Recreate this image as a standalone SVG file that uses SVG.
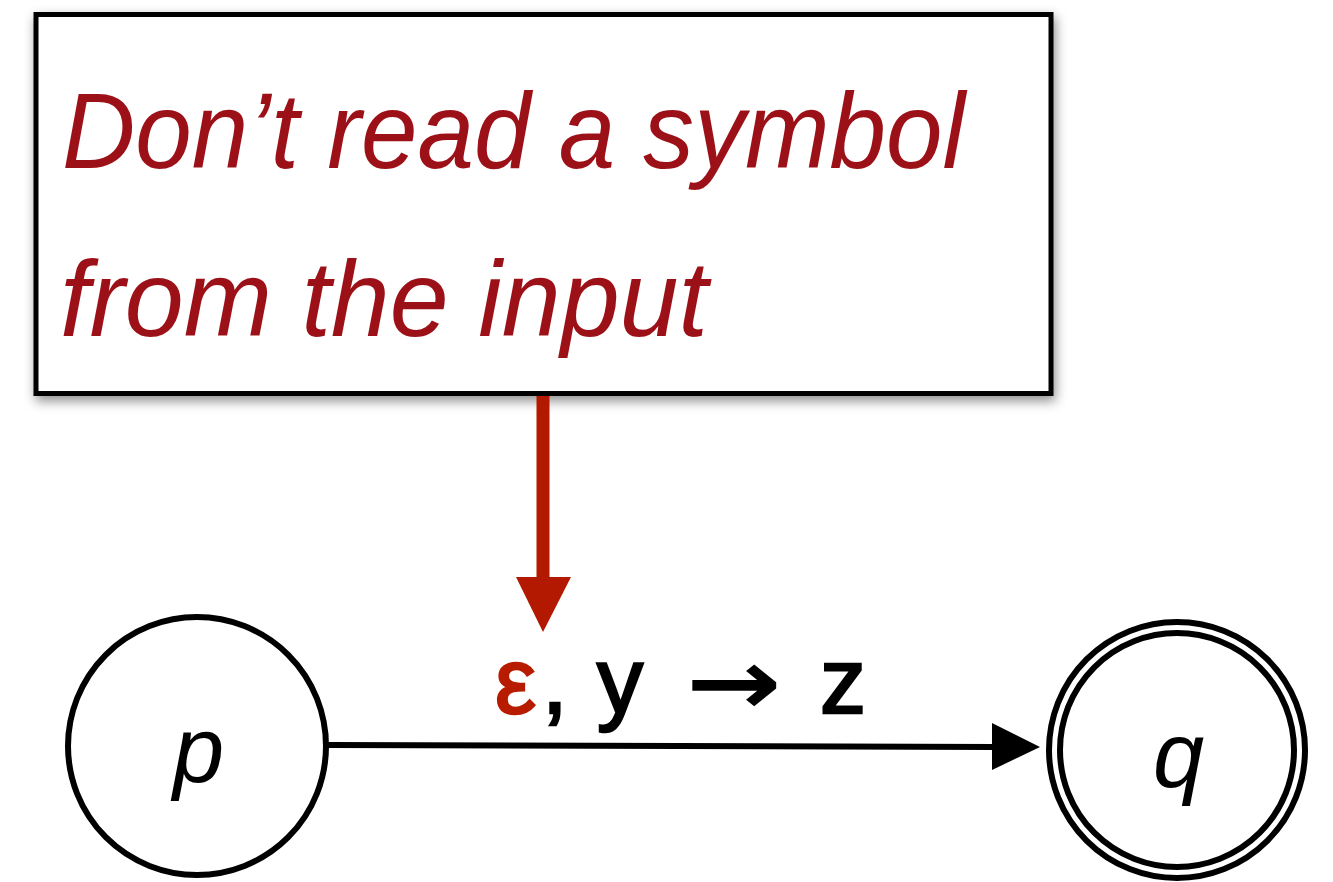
<svg xmlns="http://www.w3.org/2000/svg" width="1333" height="882" viewBox="0 0 1333 882">
<style>
.note{font-family:"Liberation Sans","Open Sans",sans-serif;font-style:italic;font-size:108px;fill:#9c1117}
.lbl{font-family:"Liberation Sans","Open Sans",sans-serif;font-size:92px;fill:#000;stroke:#000;stroke-width:2.5}
.st{font-family:"Liberation Sans","Open Sans",sans-serif;font-style:italic;font-size:92px;fill:#000}
.ring{fill:#fff;stroke:#000;stroke-width:6}
</style>
<defs>
<filter id="sh" x="-10%" y="-10%" width="120%" height="130%">
<feDropShadow dx="2" dy="5" stdDeviation="6" flood-color="#000" flood-opacity="0.45"/>
</filter>
</defs>
<rect width="1333" height="882" fill="#fff"/>
<g id="note">
<rect x="36" y="14.5" width="1015" height="379" fill="#fff" stroke="#000" stroke-width="5" filter="url(#sh)"/>
<text class="note" x="62" y="168" textLength="903" lengthAdjust="spacingAndGlyphs">Don’t read a symbol</text>
<text class="note" x="60" y="336" textLength="648" lengthAdjust="spacingAndGlyphs">from the input</text>
</g>
<g id="connectors">
<line x1="543" y1="396" x2="543" y2="580" stroke="#b31800" stroke-width="13"/>
<polygon points="516,577 571,577 543,632" fill="#b31800"/>
<line x1="328" y1="745" x2="995" y2="747" stroke="#000" stroke-width="6"/>
<polygon points="992,723 1040,747 992,770" fill="#000"/>
<g id="label">
<text class="lbl" x="495" y="713" style="fill:#b81c00;stroke:#b81c00">ε</text>
<text class="lbl" x="542" y="713">,</text>
<text class="lbl" x="597" y="713">y</text>
<text x="686" y="714" font-family="DejaVu Sans, sans-serif" font-weight="bold" font-size="92" fill="#000" textLength="96" lengthAdjust="spacingAndGlyphs">→</text>
<text class="lbl" x="820" y="713">z</text>
</g>
</g>
<g id="p">
<circle class="ring" cx="197" cy="746" r="129"/>
<text class="st" x="173" y="782">p</text>
</g>
<g id="q">
<circle class="ring" cx="1177" cy="750" r="128"/>
<circle class="ring" cx="1177" cy="750" r="117"/>
<text class="st" x="1153" y="787">q</text>
</g>
</svg>
